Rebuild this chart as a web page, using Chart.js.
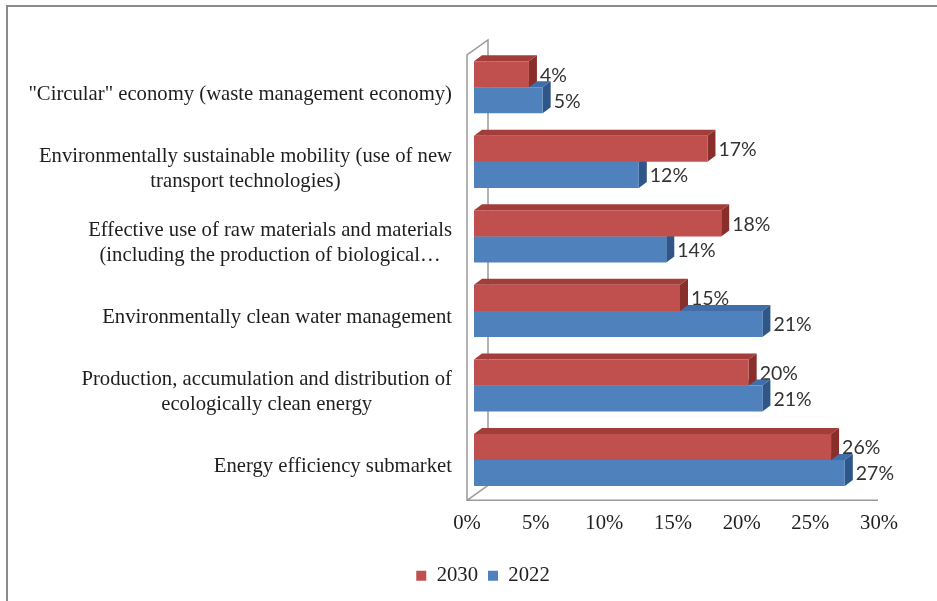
<!DOCTYPE html>
<html>
<head>
<meta charset="utf-8">
<script src="https://cdn.jsdelivr.net/npm/chart.js@4/dist/chart.umd.min.js"></script>
<style>
  body { margin: 0; background: #fff; }
  #wrap { width: 937px; height: 601px; }
</style>
</head>
<body>
<div id="wrap"><canvas id="marketChart" width="937" height="601"></canvas></div>
<script>
// Green economy submarkets, share in 2030 vs 2022
const categories = [
  ['"Circular" economy (waste management economy)'],
  ['Environmentally sustainable mobility (use of new', 'transport technologies)'],
  ['Effective use of raw materials and materials', '(including the production of biological…'],
  ['Environmentally clean water management'],
  ['Production, accumulation and distribution of', 'ecologically clean energy'],
  ['Energy efficiency submarket']
];
const seriesNames = ['2030', '2022'];
const values2030 = [4, 17, 18, 15, 20, 26];
const values2022 = [5, 12, 14, 21, 21, 27];
const axisMax = 30;
const axisStep = 5;

const serif = '"Liberation Serif", "Times New Roman", serif';
const DEPTH_X = 8, DEPTH_Y = 6;   // fake 3d extrusion of bars

function faces(ctx, bar, top, side) {
  const p = bar.getProps(['x', 'y', 'base', 'height'], true);
  const t = p.y - p.height / 2, b = p.y + p.height / 2;
  ctx.fillStyle = top;
  ctx.beginPath();
  ctx.moveTo(p.base, t);
  ctx.lineTo(p.base + DEPTH_X, t - DEPTH_Y);
  ctx.lineTo(p.x + DEPTH_X, t - DEPTH_Y);
  ctx.lineTo(p.x, t);
  ctx.closePath();
  ctx.fill();
  ctx.fillStyle = side;
  ctx.beginPath();
  ctx.moveTo(p.x, t);
  ctx.lineTo(p.x + DEPTH_X, t - DEPTH_Y);
  ctx.lineTo(p.x + DEPTH_X, b - DEPTH_Y);
  ctx.lineTo(p.x, b);
  ctx.closePath();
  ctx.fill();
}

function valueLabels(chart, index) {
  const ctx = chart.ctx;
  const ds = chart.data.datasets[index];
  ctx.save();
  ctx.font = '19.5px Lato, "Open Sans", sans-serif';
  ctx.fillStyle = '#333333';
  ctx.textAlign = 'left';
  ctx.textBaseline = 'middle';
  chart.getDatasetMeta(index).data.forEach((bar, i) => {
    ctx.fillText(ds.data[i] + '%', bar.x + 11, bar.y + 1);
  });
  ctx.restore();
}

const bar3d = {
  id: 'bar3d',
  beforeDraw(chart) {
    const ctx = chart.ctx;
    // outer frame, top and left only
    ctx.save();
    ctx.strokeStyle = '#8a8a8a';
    ctx.lineWidth = 2;
    ctx.beginPath();
    ctx.moveTo(7, 601);
    ctx.lineTo(7, 6);
    ctx.lineTo(937, 6);
    ctx.stroke();
    ctx.restore();
  },
  beforeDatasetsDraw(chart) {
    const ctx = chart.ctx;
    const a = chart.chartArea;
    const x = chart.scales.x;
    const fx = x.getPixelForValue(0) - 7, bx = fx + 21;
    ctx.save();
    ctx.strokeStyle = '#9a9a9a';
    ctx.lineWidth = 1.5;
    ctx.beginPath();
    ctx.moveTo(x.getPixelForValue(axisMax) - 8, a.bottom + 3);
    ctx.lineTo(fx, a.bottom + 3);
    ctx.lineTo(fx, a.top + 5);
    ctx.lineTo(bx, a.top - 10);
    ctx.lineTo(bx, a.bottom - 12);
    ctx.lineTo(fx, a.bottom + 3);
    ctx.stroke();
    ctx.restore();

    // category labels: block right aligned, lines centred inside the block
    const y = chart.scales.y;
    ctx.save();
    ctx.font = '20.7px ' + serif;
    ctx.fillStyle = '#1e1e1e';
    ctx.textAlign = 'center';
    ctx.textBaseline = 'middle';
    const right = fx - 15, lh = 25;
    categories.forEach((lines, i) => {
      const w = Math.max(...lines.map(l => ctx.measureText(l).width));
      const cy = y.getPixelForTick(i) + 7 - (lines.length - 1) * lh / 2;
      lines.forEach((l, k) => ctx.fillText(l, right - w / 2, cy + k * lh));
    });
    ctx.restore();

    // 2030 labels go under the 2022 bars
    valueLabels(chart, 0);
  },
  beforeDatasetDraw(chart, args) {
    const ds = chart.data.datasets[args.index];
    const ctx = chart.ctx;
    ctx.save();
    args.meta.data.forEach(bar => faces(ctx, bar, ds.topColor, ds.sideColor));
    ctx.restore();
  },
  afterDatasetsDraw(chart) {
    valueLabels(chart, 1);
  }
};

new Chart('marketChart', {
  type: 'bar',
  data: {
    labels: categories,
    datasets: [
      {
        label: seriesNames[0],
        data: values2030,
        backgroundColor: '#c0504d',
        topColor: '#a33d3a',
        sideColor: '#8a2e2b',
        categoryPercentage: 0.7,
        barPercentage: 1
      },
      {
        label: seriesNames[1],
        data: values2022,
        backgroundColor: '#4f81bd',
        topColor: '#3f6ea8',
        sideColor: '#2f5689',
        categoryPercentage: 0.7,
        barPercentage: 1
      }
    ]
  },
  options: {
    indexAxis: 'y',
    responsive: false,
    animation: false,
    layout: { padding: { top: 50, right: 51, left: 80, bottom: 5 } },
    scales: {
      x: {
        min: 0,
        max: axisMax,
        grid: { display: false, drawTicks: false },
        border: { display: false },
        ticks: {
          stepSize: axisStep,
          padding: 14,
          labelOffset: -7,
          color: '#1e1e1e',
          font: { family: serif, size: 20.7 },
          callback: v => v + '%'
        },
        afterFit(s) { s.height = 58; }
      },
      y: {
        grid: { display: false, drawTicks: false },
        border: { display: false },
        ticks: { display: false },
        afterFit(s) { s.width = 394; }
      }
    },
    plugins: {
      tooltip: { enabled: false },
      legend: {
        position: 'bottom',
        labels: {
          boxWidth: 10,
          boxHeight: 10,
          color: '#1e1e1e',
          font: { family: serif, size: 20.7 }
        }
      }
    }
  },
  plugins: [bar3d]
});
</script>
</body>
</html>
